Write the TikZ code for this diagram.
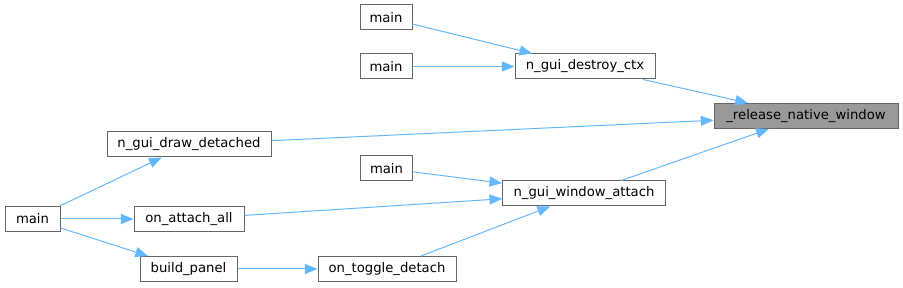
\documentclass[tikz,border=0pt]{standalone}
\usepackage{fontspec}
\setmainfont{DejaVu Sans}
\usetikzlibrary{arrows.meta}
\definecolor{edgeblue}{HTML}{63B8FF}
\definecolor{boxgray}{HTML}{666666}
\definecolor{curfill}{HTML}{999999}
\tikzset{
  fn/.style={draw=boxgray,fill=white,line width=0.75pt,minimum height=18.75pt,
    inner xsep=2pt,font=\fontsize{9.9}{11}\selectfont},
  cur/.style={fn,fill=curfill},
  call/.style={draw=edgeblue,line width=0.75pt,-{Triangle[length=9.5pt,width=7.5pt]}}
}
\begin{document}
\begin{tikzpicture}[x=0.75pt,y=-0.75pt]
        \useasboundingbox (0,0) rectangle (903,288);
        % funzione documentata
        \node[cur,minimum width=138pt] (rel) at (806,116) {\_release\_native\_window};
        % chiamanti diretti
        \node[fn,minimum width=105pt] (destroy) at (585,66.5) {n\_gui\_destroy\_ctx};
        \node[fn,minimum width=123pt] (drawdet) at (189,144.5) {n\_gui\_draw\_detached};
        \node[fn,minimum width=122pt] (attach) at (584,193.5) {n\_gui\_window\_attach};
        % livello successivo
        \node[fn,minimum width=39pt] (mainA) at (386,17.5) {main};
        \node[fn,minimum width=39pt] (mainB) at (386,66.5) {main};
        \node[fn,minimum width=39.5pt] (mainC) at (386.5,168.5) {main};
        \node[fn,minimum width=82.5pt] (attall) at (189,219) {on\_attach\_all};
        \node[fn,minimum width=103.5pt] (toggle) at (387,269) {on\_toggle\_detach};
        \node[fn,minimum width=72.75pt] (panel) at (188.5,269) {build\_panel};
        \node[fn,minimum width=41.25pt] (mainD) at (32.5,219) {main};
        % chiamate
        \draw[call] (destroy) -- (rel);
        \draw[call] (drawdet) -- (rel);
        \draw[call] (attach) -- (rel);
        \draw[call] (mainA) -- (destroy);
        \draw[call] (mainB) -- (destroy);
        \draw[call] (mainC) -- (attach);
        \draw[call] (attall) -- (attach);
        \draw[call] (toggle) -- (attach);
        \draw[call] (mainD) -- (drawdet);
        \draw[call] (mainD) -- (attall);
        \draw[call] (mainD) -- (panel);
        \draw[call] (panel) -- (toggle);
    \end{tikzpicture}
\end{document}
